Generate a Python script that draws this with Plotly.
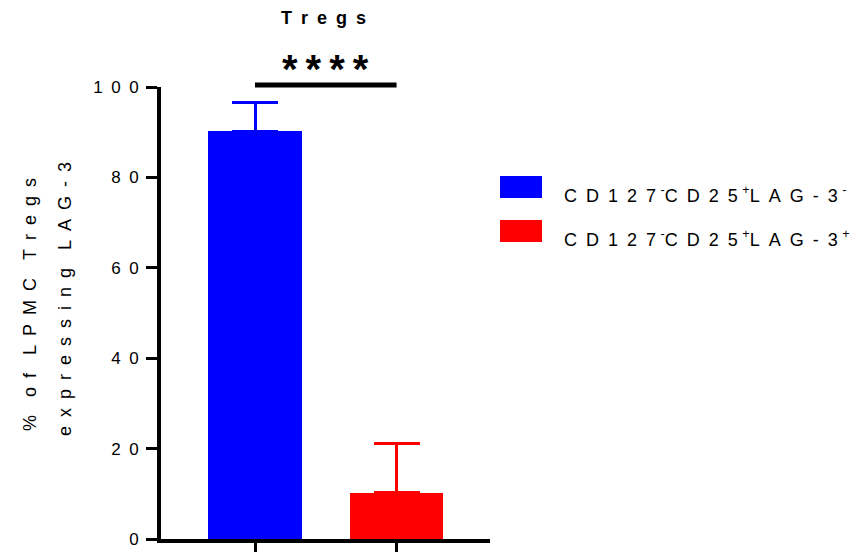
import plotly.graph_objects as go

# ---- data ----
categories = ["CD127-CD25+LAG-3-", "CD127-CD25+LAG-3+"]
means = [90.2, 10.2]
sd_upper = [6.3, 11.0]
colors = ["#0000FF", "#FF0000"]
SP = "\u2002"
SUPSP = "\u2005"
legend_labels = [
    SP.join("CD127") + SUPSP + "<sup>-</sup>" + SP.join("CD25") + SUPSP + "<sup>+</sup>" + SP.join("LAG-3") + SUPSP + "<sup>-</sup>",
    SP.join("CD127") + SUPSP + "<sup>-</sup>" + SP.join("CD25") + SUPSP + "<sup>+</sup>" + SP.join("LAG-3") + SUPSP + "<sup>+</sup>",
]
y_tickvals = [0, 20, 40, 60, 80, 100]
significance = "****"


def spaced(s, sp=SP, word_gap=SP * 2):
    return word_gap.join(sp.join(list(w)) for w in s.split(" "))


FONT = "Arial, Liberation Sans, sans-serif"
W, H = 862, 552
OFF = 8  # page offset of the figure inside the browser window
# target plot area in window pixels: x 161..490, y 87..539
L = 161 - OFF
R = W - (490 - OFF)
T = 87 - OFF
B = H - (539 - OFF)
XMIN, XMAX = -0.664, 1.66

fig = go.Figure()
for i, c in enumerate(categories):
    fig.add_trace(go.Bar(
        x=[i], y=[means[i]],
        marker=dict(color=colors[i], line=dict(width=0)),
        width=0.66,
        error_y=dict(type="data", symmetric=False, array=[sd_upper[i]], arrayminus=[0],
                     color=colors[i], thickness=3, width=23),
        showlegend=False, name=c,
    ))

fig.update_layout(
    template="none",
    width=W, height=H,
    margin=dict(l=L, r=R, t=T, b=B, autoexpand=False),
    plot_bgcolor="white", paper_bgcolor="white",
    font=dict(family=FONT, size=17, color="black"),
    bargap=0,
)
fig.update_xaxes(
    range=[XMIN, XMAX], tickvals=[0, 1], ticktext=["", ""], automargin=False,
    showline=True, linecolor="black", linewidth=4,
    ticks="outside", ticklen=10, tickwidth=3, tickcolor="black",
    showgrid=False, zeroline=False,
)
fig.update_yaxes(
    range=[0, 100], tickvals=y_tickvals, ticktext=[SP.join(str(v)) for v in y_tickvals],
    automargin=False,
    showline=True, linecolor="black", linewidth=4,
    ticks="outside", ticklen=11, tickwidth=3, tickcolor="black",
    showgrid=False, zeroline=False, ticklabelstandoff=4,
    tickfont=dict(size=17),
)

plot_w = W - L - R
plot_h = H - T - B


def px_to_paper_x(px):
    return (px - OFF - L) / plot_w


def px_to_paper_y(py):
    return (H - B - (py - OFF)) / plot_h


# title
fig.add_annotation(text="<b>" + spaced("Tregs") + "</b>", xref="paper", yref="paper",
                   x=px_to_paper_x(323), y=px_to_paper_y(18), showarrow=False,
                   xanchor="center", yanchor="middle", font=dict(size=18))

# y-axis title (two lines)
fig.add_annotation(text=spaced("% of LPMC Tregs"), xref="paper", yref="paper",
                   x=px_to_paper_x(30), y=px_to_paper_y(305), textangle=-90, showarrow=False,
                   xanchor="center", yanchor="middle", font=dict(size=18))
fig.add_annotation(text=spaced("expressing LAG-3"), xref="paper", yref="paper",
                   x=px_to_paper_x(65), y=px_to_paper_y(299), textangle=-90, showarrow=False,
                   xanchor="center", yanchor="middle", font=dict(size=18))

# significance bar
fig.add_shape(type="line", xref="x", yref="paper", x0=0, x1=1,
              y0=px_to_paper_y(85), y1=px_to_paper_y(85),
              line=dict(color="black", width=5))
fig.add_annotation(text="<b>" + "\u2009".join(significance) + "</b>", xref="x", yref="paper",
                   x=0.5, y=px_to_paper_y(69), showarrow=False,
                   xanchor="center", yanchor="middle", font=dict(size=40))

# legend
rect_y = [(176, 198), (220, 242)]
text_y = [194.5, 238.5]
for i in range(len(categories)):
    y0, y1 = rect_y[i]
    fig.add_shape(type="rect", xref="paper", yref="paper",
                  x0=px_to_paper_x(500), x1=px_to_paper_x(542),
                  y0=px_to_paper_y(y1), y1=px_to_paper_y(y0),
                  fillcolor=colors[i], line=dict(width=0))
    fig.add_annotation(text=legend_labels[i], xref="paper", yref="paper",
                       x=px_to_paper_x(562), y=px_to_paper_y(text_y[i]), showarrow=False,
                       xanchor="left", yanchor="middle", font=dict(size=18))

fig.write_html("out.html")
